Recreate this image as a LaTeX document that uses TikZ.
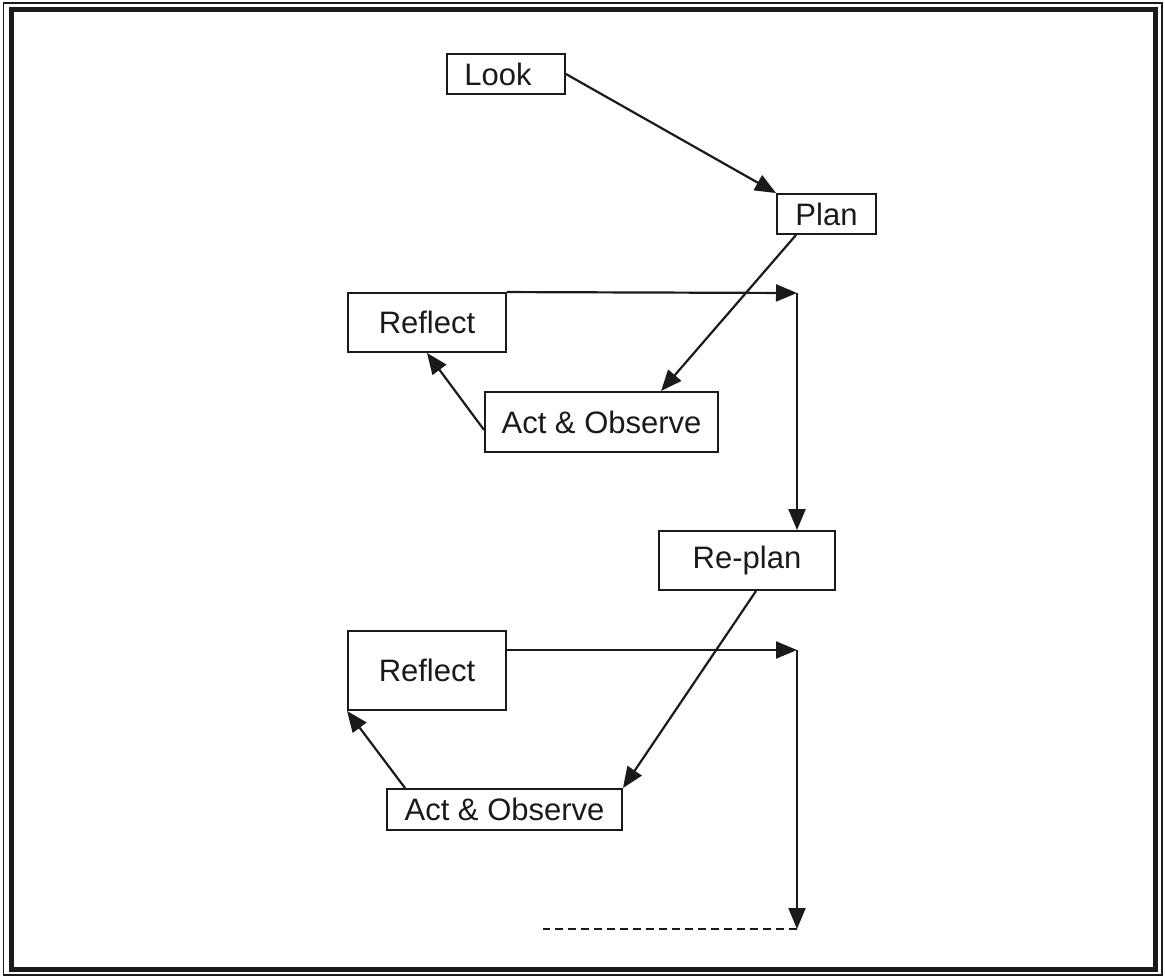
\documentclass[tikz,border=0pt]{standalone}
\usepackage{fontspec}
\setmainfont{Liberation Sans}
\usetikzlibrary{arrows.meta,calc}
\definecolor{ink}{HTML}{1A1A1A}
\tikzset{
  box/.style={draw=ink, line width=1.9pt, inner sep=0pt, text=ink,
    font=\fontsize{31}{31}\selectfont},
  conn/.style={draw=ink, line width=2.2pt,
    -{Triangle[length=21pt,width=17pt]}},
  dashline/.style={draw=ink, line width=1.7pt, dash pattern=on 8pt off 5pt}
}
\begin{document}
\begin{tikzpicture}[x=1pt,y=-1pt]
\useasboundingbox (0,0) rectangle (1165,977);
% frame
\draw[ink, line width=1.6pt] (3.5,3) rectangle (1162,975);
\draw[ink, line width=5pt] (11.5,9.5) rectangle (1155,969);
% nodes
\node[box, minimum width=118pt, minimum height=40pt] (look) at (506,74) {Look\kern16pt};
\node[box, minimum width=99pt, minimum height=40pt] (plan) at (826.5,214) {Plan};
\node[box, minimum width=158pt, minimum height=59pt] (ref1) at (427,322.5) {Reflect};
\node[box, minimum width=233pt, minimum height=60pt] (act1) at (601.5,422) {Act \& Observe};
\node[box, minimum width=176pt, minimum height=59pt] (replan) at (747,560.5) {Re-plan};
\node[box, minimum width=158pt, minimum height=79pt] (ref2) at (427,670.5) {Reflect};
\node[box, minimum width=235pt, minimum height=41pt] (act2) at (504.5,809.5) {Act \& Observe};
% corner coordinates
\coordinate (c1) at (797,293);
\coordinate (c2) at (797,650);
\coordinate (c3) at (797,929);
\coordinate (c4) at (543,929);
% connectors
\draw[conn] (look.east) -- (plan.north west);
\draw[conn] ($(plan.south west)+(20,0)$) -- ($(act1.north west)+(177,0)$);
\draw[conn] (ref1.north east) -- (c1);
\draw[conn] (c1) -- (c1 |- replan.north);
\draw[conn] ($(act1.west)+(0,8)$) -- (ref1.south);
\draw[conn] ($(replan.south west)+(98,0)$) -- (act2.north east);
\draw[conn] ($(ref2.east)+(0,-20.5)$) -- (c2);
\draw[conn] (c2) -- (c3);
\draw[dashline] (c3) -- (c4);
\draw[conn] ($(act2.north west)+(19,0)$) -- (ref2.south west);
\end{tikzpicture}
\end{document}
